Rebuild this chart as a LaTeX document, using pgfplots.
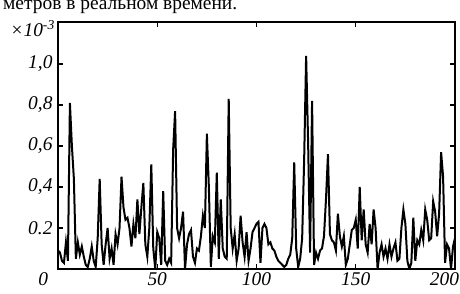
\documentclass[border=0pt]{standalone}
\usepackage{fontspec}
\setmainfont{Liberation Serif}
\usepackage{pgfplots}
\pgfplotsset{compat=1.18}
\pgfplotstableread{
x y
0 0.09
1 0.08
2 0.04
3 0.03
4 0.13
5 0.04
6 0.81
7 0.60
8 0.44
9 0.05
10 0.13
11 0.07
12 0.11
13 0.06
14 0.02
15 0.01
16 0.05
17 0.11
18 0.04
19 0.01
20 0.15
21 0.44
22 0.12
23 0.02
24 0.12
25 0.20
26 0.05
27 0.10
28 0.02
29 0.17
30 0.12
31 0.20
32 0.45
33 0.30
34 0.24
35 0.25
36 0.20
37 0.11
38 0.22
39 0.15
40 0.34
41 0.17
42 0.30
43 0.42
44 0.12
45 0.06
46 0.20
47 0.51
48 0.10
49 0.00
50 0.18
51 0.15
52 0.02
53 0.38
54 0.04
55 0.02
56 0.05
57 0.03
58 0.58
59 0.77
60 0.20
61 0.15
62 0.20
63 0.28
64 0.00
65 0.12
66 0.17
67 0.19
68 0.06
69 0.03
70 0.10
71 0.09
72 0.16
73 0.26
74 0.20
75 0.66
76 0.40
77 0.01
78 0.16
79 0.13
80 0.47
81 0.05
82 0.34
83 0.10
84 0.06
85 0.05
86 0.83
87 0.20
88 0.10
89 0.17
90 0.04
91 0.10
92 0.26
93 0.13
94 0.06
95 0.18
96 0.04
97 0.10
98 0.18
99 0.20
100 0.22
101 0.23
102 0.03
103 0.20
104 0.22
105 0.20
106 0.12
107 0.13
108 0.10
109 0.09
110 0.06
111 0.04
112 0.03
113 0.02
114 0.01
115 0.02
116 0.05
117 0.07
118 0.15
119 0.52
120 0.10
121 0.01
122 0.05
123 0.15
124 0.53
125 1.04
126 0.62
127 0.08
128 0.82
129 0.02
130 0.08
131 0.05
132 0.09
133 0.10
134 0.16
135 0.34
136 0.56
137 0.17
138 0.14
139 0.13
140 0.09
141 0.27
142 0.16
143 0.11
144 0.16
145 0.02
146 0.05
147 0.12
148 0.19
149 0.20
150 0.24
151 0.10
152 0.40
153 0.14
154 0.29
155 0.12
156 0.08
157 0.22
158 0.12
159 0.29
160 0.20
161 0.00
162 0.08
163 0.12
164 0.06
165 0.10
166 0.05
167 0.12
168 0.06
169 0.10
170 0.13
171 0.04
172 0.05
173 0.20
174 0.29
175 0.22
176 0.04
177 0.00
178 0.03
179 0.25
180 0.04
181 0.14
182 0.12
183 0.19
184 0.14
185 0.29
186 0.24
187 0.14
188 0.15
189 0.33
190 0.28
191 0.16
192 0.27
193 0.57
194 0.45
195 0.03
196 0.12
197 0.10
198 0.00
199 0.11
200 0.15
}\datatable
\begin{document}
\begin{tikzpicture}
\begin{axis}[at={(0bp,0bp)}, anchor=south west, scale only axis,
  width=397bp, height=247bp,
  xmin=0, xmax=200, ymin=0, ymax=1.205,
  xtick={0,50,100,150,200},
  xticklabels={\makebox[0pt][r]{0\hspace{10bp}},50,100,150,\makebox[0pt][r]{200\hspace{-4bp}}},
  ytick={0.2,0.4,0.6,0.8,1.0},
  yticklabels={0.2,{0,4},{0,6},{0,8},{1,0}},
  tick align=inside, major tick length=5bp,
  axis line style={line width=2bp},
  tick style={line width=1.4bp, black},
  ticklabel style={font=\fontsize{19.5}{21}\selectfont\itshape},
  xticklabel style={yshift=-0.5bp},
  yticklabel style={xshift=-2bp},
  clip=true]
\addplot[black, line width=2bp, mark=none] table[x=x,y=y] {\datatable};
\end{axis}
\node[anchor=base west, font=\fontsize{19.5}{22}\selectfont, inner sep=0pt] at (-55bp,259bp) {метров в реальном времени.};
\node[anchor=base east, font=\fontsize{19.5}{21}\selectfont\itshape, inner sep=0pt] at (-3bp,232bp) {×10\textsuperscript{-3}};
\pgfresetboundingbox
\useasboundingbox (-58bp,-25bp) rectangle (402bp,269bp);
\end{tikzpicture}
\end{document}
